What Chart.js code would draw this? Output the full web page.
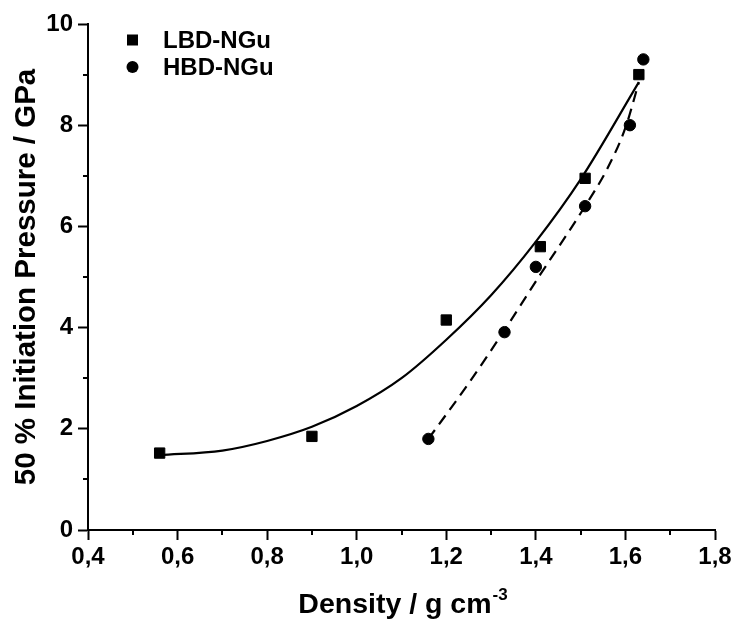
<!DOCTYPE html>
<html>
<head>
<meta charset="utf-8">
<title>50 % Initiation Pressure vs Density</title>
<script src="https://cdn.jsdelivr.net/npm/chart.js@4/dist/chart.umd.min.js"></script>
<style>
  html, body { margin: 0; padding: 0; background: #fff; }
  #chart { display: block; }
</style>
</head>
<body>
<canvas id="chart" width="736" height="619"></canvas>
<script>
// ========= Data =========
const lbdDensity = [0.56, 0.90, 1.20, 1.41, 1.51, 1.63];
const lbdPressure = [1.52, 1.85, 4.15, 5.60, 6.95, 9.00];

const hbdDensity = [1.16, 1.33, 1.40, 1.51, 1.61, 1.64];
const hbdPressure = [1.80, 3.91, 5.20, 6.40, 8.00, 9.30];

// fit curves
const lbdFitX = [0.56, 0.70, 0.80, 0.90, 1.00, 1.10, 1.20, 1.30, 1.40, 1.50, 1.63];
const lbdFitY = [1.48, 1.57, 1.76, 2.04, 2.45, 3.00, 3.76, 4.64, 5.70, 6.93, 8.85];

const hbdFitX = [1.16, 1.25, 1.33, 1.41, 1.51, 1.56, 1.60, 1.63];
const hbdFitY = [1.80, 2.90, 3.95, 5.05, 6.40, 7.15, 7.95, 8.85];

const xMinorTicks = [0.5, 0.7, 0.9, 1.1, 1.3, 1.5, 1.7];
const yMinorTicks = [1, 3, 5, 7, 9];

const xTitle = "Density / g cm";
const xTitleSup = "-3";
const yTitle = "50 % Initiation Pressure / GPa";

const FONT = "'Liberation Sans', Arial, sans-serif";

const toPoints = (xs, ys) => xs.map((x, i) => ({ x: x, y: ys[i] }));

// ========= Plugins =========
const decorations = {
  id: "decorations",
  afterDraw(chart) {
    const ctx = chart.ctx;
    const xs = chart.scales.x;
    const ys = chart.scales.y;
    const area = chart.chartArea;

    ctx.save();
    // minor ticks
    ctx.strokeStyle = "#000";
    ctx.lineWidth = 2;
    ctx.beginPath();
    xMinorTicks.forEach(v => {
      const px = Math.round(xs.getPixelForValue(v));
      ctx.moveTo(px, area.bottom);
      ctx.lineTo(px, area.bottom + 5);
    });
    yMinorTicks.forEach(v => {
      const py = Math.round(ys.getPixelForValue(v));
      ctx.moveTo(area.left - 5, py);
      ctx.lineTo(area.left, py);
    });
    ctx.stroke();

    // legend
    ctx.fillStyle = "#000";
    ctx.font = "bold 24px " + FONT;
    ctx.textBaseline = "middle";
    ctx.textAlign = "left";
    chart.data.datasets.forEach((ds, i) => {
      if (!ds.inLegend) return;
      const cy = 40 + i * 27;
      if (ds.pointStyle === "rect") {
        ctx.fillRect(127, cy - 5.5, 11, 11);
      } else {
        ctx.beginPath();
        ctx.arc(132.5, cy, 6, 0, Math.PI * 2);
        ctx.fill();
      }
      ctx.fillText(ds.label, 163, cy + 1);
    });

    // x title with superscript
    ctx.textBaseline = "alphabetic";
    ctx.font = "bold 28.5px " + FONT;
    const mainW = ctx.measureText(xTitle).width;
    ctx.font = "bold 17px " + FONT;
    const supW = ctx.measureText(xTitleSup).width;
    const startX = (area.left + area.right) / 2 - (mainW + supW) / 2 + 1;
    ctx.font = "bold 28.5px " + FONT;
    ctx.fillText(xTitle, startX, 613);
    ctx.font = "bold 17px " + FONT;
    ctx.fillText(xTitleSup, startX + mainW + 1, 600);

    // y title
    ctx.translate(35, (area.top + area.bottom) / 2);
    ctx.rotate(-Math.PI / 2);
    ctx.font = "bold 29.5px " + FONT;
    ctx.textAlign = "center";
    ctx.fillText(yTitle, 0, 0);
    ctx.restore();
  }
};

// ========= Chart =========
const ctx = document.getElementById("chart").getContext("2d");

new Chart(ctx, {
  type: "scatter",
  data: {
    datasets: [
      {
        label: "LBD-NGu",
        inLegend: true,
        data: toPoints(lbdDensity, lbdPressure),
        pointStyle: "rect",
        pointRadius: 7.3,
        pointBorderWidth: 1,
        backgroundColor: "#000",
        borderColor: "#000",
        order: 0
      },
      {
        label: "HBD-NGu",
        inLegend: true,
        data: toPoints(hbdDensity, hbdPressure),
        pointStyle: "circle",
        pointRadius: 5.7,
        pointBorderWidth: 1,
        backgroundColor: "#000",
        borderColor: "#000",
        order: 0
      },
      {
        label: "LBD fit",
        data: toPoints(lbdFitX, lbdFitY),
        showLine: true,
        pointRadius: 0,
        borderColor: "#000",
        borderWidth: 2.2,
        cubicInterpolationMode: "monotone",
        order: 1
      },
      {
        label: "HBD fit",
        data: toPoints(hbdFitX, hbdFitY),
        showLine: true,
        pointRadius: 0,
        borderColor: "#000",
        borderWidth: 2.2,
        borderDash: [11, 7],
        cubicInterpolationMode: "monotone",
        order: 1
      }
    ]
  },
  options: {
    responsive: false,
    devicePixelRatio: 1,
    animation: false,
    clip: false,
    layout: { padding: { top: 24, right: 21, left: 0, bottom: 0 } },
    plugins: {
      legend: { display: false },
      tooltip: { enabled: false }
    },
    scales: {
      x: {
        type: "linear",
        min: 0.4,
        max: 1.8,
        afterFit: s => { s.height = 89; s.paddingLeft = 0; s.paddingRight = 0; },
        border: { display: true, color: "#000", width: 2 },
        grid: { drawOnChartArea: false, drawTicks: true, tickLength: 10, tickWidth: 2, tickColor: "#000" },
        ticks: {
          stepSize: 0.2,
          padding: 3,
          color: "#000",
          font: { family: FONT, size: 24, weight: "bold" },
          callback: v => v.toFixed(1).replace(".", ",")
        }
      },
      y: {
        type: "linear",
        min: 0,
        max: 10,
        afterFit: s => { s.width = 88; s.paddingTop = 0; s.paddingBottom = 0; },
        border: { display: true, color: "#000", width: 2 },
        grid: { drawOnChartArea: false, drawTicks: true, tickLength: 10, tickWidth: 2, tickColor: "#000" },
        ticks: {
          stepSize: 2,
          padding: 5,
          color: "#000",
          font: { family: FONT, size: 24, weight: "bold" },
          callback: v => String(v)
        }
      }
    }
  },
  plugins: [decorations]
});
</script>
</body>
</html>
